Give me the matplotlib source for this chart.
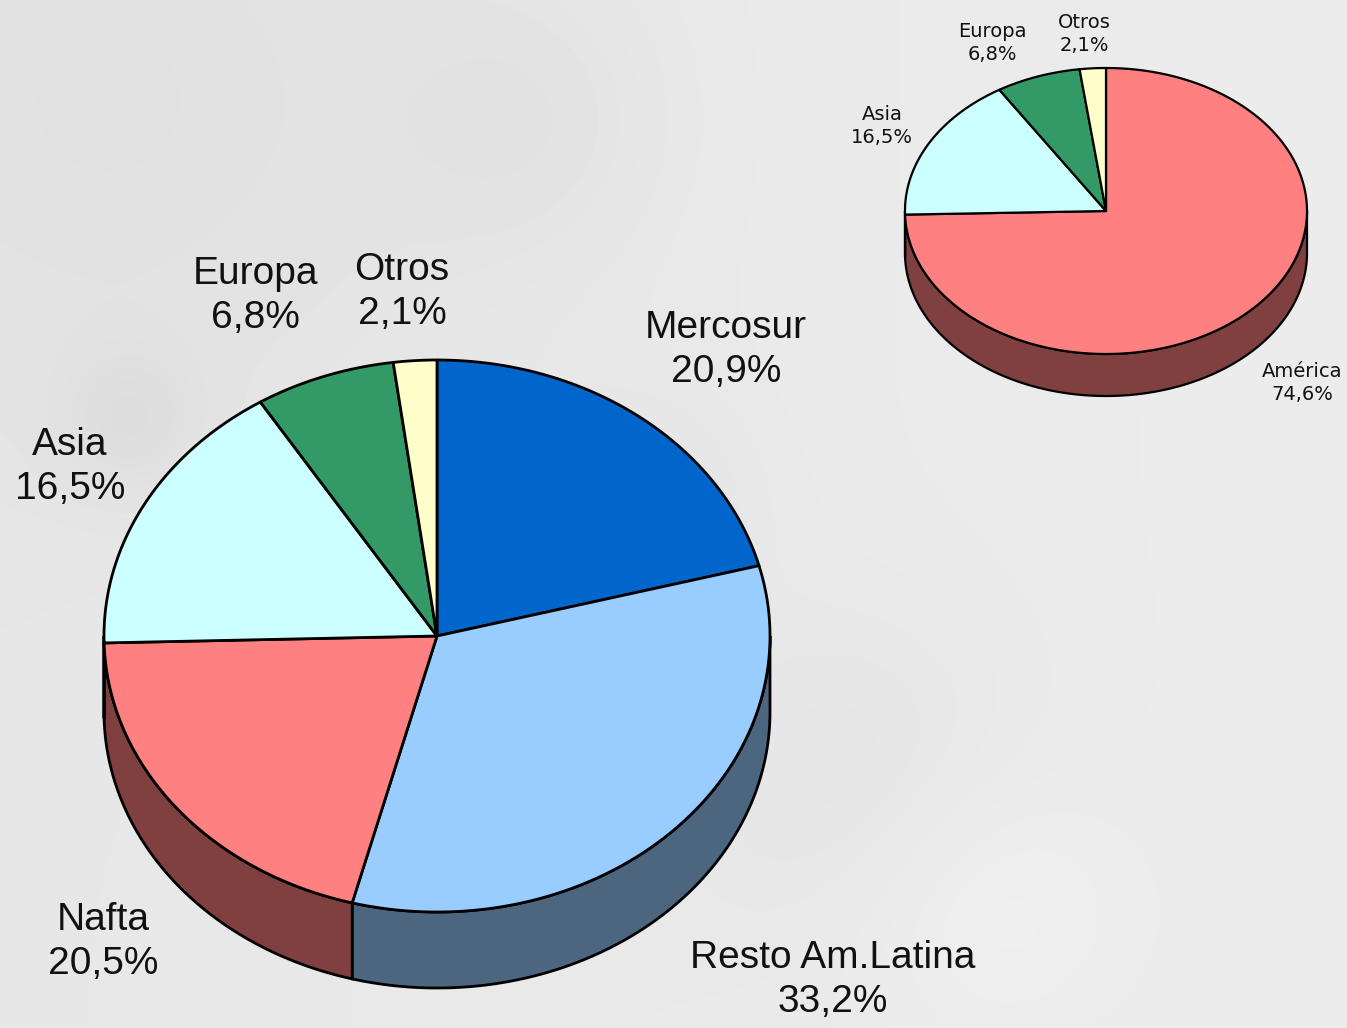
import numpy as np
import matplotlib
matplotlib.use('Agg')
import matplotlib.pyplot as plt
from matplotlib.patches import Polygon

# datos - grafico grande
regiones = ['Mercosur', 'Resto Am.Latina', 'Nafta', 'Asia', 'Europa', 'Otros']
valores = [20.9, 33.2, 20.5, 16.5, 6.8, 2.1]
colores = ['#0066CC', '#99CCFF', '#FF8080', '#CCFFFF', '#339966', '#FFFFCC']

# datos - grafico chico
regiones2 = ['América', 'Asia', 'Europa', 'Otros']
valores2 = [74.6, 16.5, 6.8, 2.1]
colores2 = ['#FF8080', '#CCFFFF', '#339966', '#FFFFCC']

W, H = 1347, 1028
fig = plt.figure(figsize=(W / 100, H / 100), dpi=100)
ax = fig.add_axes([0, 0, 1, 1])
ax.set_xlim(0, W)
ax.set_ylim(H, 0)
ax.axis('off')

# fondo gris difuso
yy, xx = np.mgrid[0:H, 0:W]
fondo = 0.905 + 0.02 * (xx / W) - 0.025 * np.exp(-((xx - 150) ** 2 + (yy - 100) ** 2) / (2 * 260 ** 2))
for bx, by, s, a in [(520, 120, 90, 0.02), (130, 420, 50, 0.03), (860, 780, 120, 0.02),
                     (650, 500, 80, 0.015), (980, 900, 100, -0.02)]:
    fondo -= a * np.exp(-((xx - bx) ** 2 + (yy - by) ** 2) / (2 * s ** 2))
ax.imshow(fondo, cmap='gray', vmin=0, vmax=1, extent=[0, W, H, 0], zorder=0, aspect='auto')


def oscuro(c):
    r, g, b = matplotlib.colors.to_rgb(c)
    return (r * 0.5, g * 0.5, b * 0.5)


def torta3d(vals, cols, cx, cy, rx, ry, prof, lw):
    fr = np.array(vals) / np.sum(vals)
    bordes = 90 - 360 * np.concatenate([[0], np.cumsum(fr)])
    # lados visibles (mitad de adelante)
    for i, c in enumerate(cols):
        t2, t1 = bordes[i], bordes[i + 1]
        for off in (0, -360, 360):
            a, b = max(t1 + off, -180), min(t2 + off, 0)
            if b > a:
                t = np.radians(np.linspace(a, b, 200))
                xs = cx + rx * np.cos(t)
                ys = cy - ry * np.sin(t)
                pts = np.vstack([np.column_stack([xs, ys]),
                                 np.column_stack([xs[::-1], ys[::-1] + prof])])
                ax.add_patch(Polygon(pts, closed=True, fc=oscuro(c), ec='black', lw=lw, zorder=2))
    # tapa
    for i, c in enumerate(cols):
        t = np.radians(np.linspace(bordes[i], bordes[i + 1], 300))
        xs = cx + rx * np.cos(t)
        ys = cy - ry * np.sin(t)
        pts = np.vstack([[cx, cy], np.column_stack([xs, ys])])
        ax.add_patch(Polygon(pts, closed=True, fc=c, ec='black', lw=lw, zorder=3, joinstyle='round'))


torta3d(valores, colores, 437, 636, 333, 276, 76, 2.0)
torta3d(valores2, colores2, 1106, 211, 201, 143, 42, 1.6)

pos_etiq = [(726, 350), (833, 980), (103, 942), (70, 467), (255, 296), (402, 292)]
for nom, v, (x, y) in zip(regiones, valores, pos_etiq):
    ax.text(x, y, nom + '\n' + f'{v:.1f}'.replace('.', ',') + '%', ha='center', va='center',
            fontsize=28, family=['Liberation Sans', 'DejaVu Sans'], color='#111111',
            linespacing=1.3, zorder=5)

pos_etiq2 = [(1302, 383), (882, 126), (992, 43), (1084, 34)]
for nom, v, (x, y) in zip(regiones2, valores2, pos_etiq2):
    ax.text(x, y, nom + '\n' + f'{v:.1f}'.replace('.', ',') + '%', ha='center', va='center',
            fontsize=14, family=['DejaVu Sans'], color='#111111', linespacing=1.3, zorder=5)

fig.savefig('out.png', dpi=100)
